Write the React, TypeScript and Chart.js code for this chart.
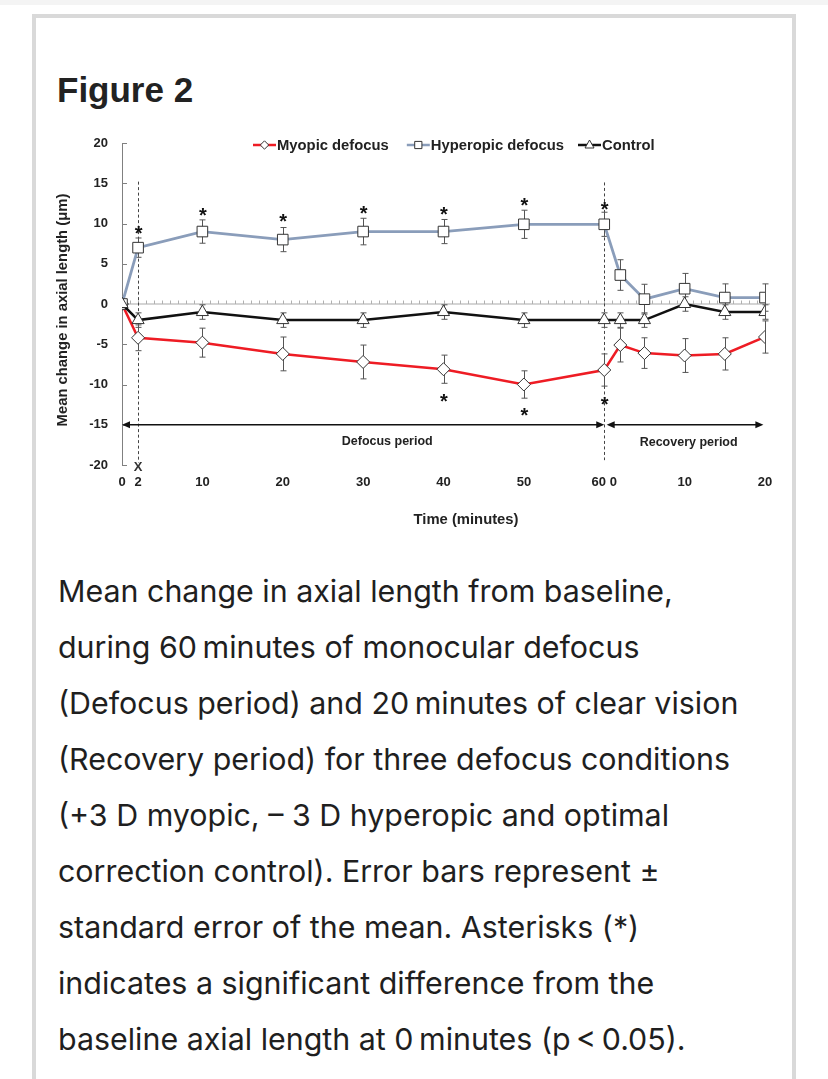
import React, { useEffect, useRef } from "react";
import { Chart, registerables } from "chart.js";

Chart.register(...registerables);

// ---- data ----
const TIME = [0, 2, 10, 20, 30, 40, 50, 60, 62, 65, 70, 75, 80];
const MYOPIC = [0, -4.2, -4.8, -6.2, -7.2, -8.1, -10, -8.2, -5.1, -6.1, -6.4, -6.2, -4.1];
const MYOPIC_SE = [0, 1.6, 1.8, 2.1, 2.1, 1.75, 1.7, 2.0, 2.1, 1.9, 2.1, 2.0, 2.0];
const HYPEROPIC = [0, 7, 9, 8, 9, 9, 9.9, 9.9, 3.6, 0.6, 1.9, 0.8, 0.8];
const HYPEROPIC_SE = [0, 1.2, 1.45, 1.5, 1.65, 1.5, 1.75, 1.5, 1.9, 1.85, 1.9, 1.7, 1.7];
const CONTROL = [0, -2, -1, -2, -2, -1, -2, -2, -2, -2, 0, -1, -1];
const CONTROL_SE = [0, 0.9, 0.9, 0.9, 0.9, 0.9, 0.9, 0.9, 0.9, 0.9, 0.9, 0.9, 0.9];

const X_TICKS = [0, 2, 10, 20, 30, 40, 50, 60, 70, 80];
const X_TICK_LABELS = ["0", "2", "10", "20", "30", "40", "50", "60 0", "10", "20"];
const Y_TICKS = [-20, -15, -10, -5, 0, 5, 10, 15, 20];

const X_TITLE = "Time (minutes)";
const Y_TITLE = "Mean change in axial length (\u03bcm)";

const HYPER_STARS = [[2, 9.4], [10, 11.6], [20, 10.9], [30, 11.9], [40, 11.8], [50, 12.8], [60, 12.3]];
const MYOPIC_STARS = [[40, -11.5], [50, -13.2], [60, -11.9]];

const PERIOD_LABELS = ["Defocus period", "Recovery period"];
const PERIOD_FROM = [0, 60.3];
const PERIOD_TO = [60, 79.8];
const PERIOD_LABEL_X = [33, 70.5];
const PERIOD_LABEL_Y = [-17.1, -17.2];
const ARROW_Y = -15;

const DASHED_X = [2, 60];
const DASHED_TOP = [15.2, 15.1];
const DASHED_BOTTOM = [-19.7, -19.4];

const CAPTION = [
  "Mean change in axial length from baseline,",
  "during 60\u2009minutes of monocular defocus",
  "(Defocus period) and 20\u2009minutes of clear vision",
  "(Recovery period) for three defocus conditions",
  "(+3 D myopic, \u2013 3 D hyperopic and optimal",
  "correction control). Error bars represent \u00b1",
  "standard error of the mean. Asterisks (*)",
  "indicates a significant difference from the",
  "baseline axial length at 0\u2009minutes (p\u2009<\u20090.05).",
];

const FONT = '"Liberation Sans", Arial, Helvetica, sans-serif';
const TEXT_FONT = 'Inter, "Liberation Sans", Arial, sans-serif';
const RED = "#ee1c24";
const BLUE = "#8a9dba";
const BLACK = "#111111";

function drawMarker(ctx: CanvasRenderingContext2D, style: string, cx: number, cy: number, r: number) {
  ctx.beginPath();
  if (style === "rectRot") {
    ctx.moveTo(cx - r, cy);
    ctx.lineTo(cx, cy - r);
    ctx.lineTo(cx + r, cy);
    ctx.lineTo(cx, cy + r);
    ctx.closePath();
  } else if (style === "rect") {
    ctx.rect(cx - r, cy - r, 2 * r, 2 * r);
  } else {
    ctx.moveTo(cx, cy - r);
    ctx.lineTo(cx + r * 0.9, cy + r * 0.6);
    ctx.lineTo(cx - r * 0.9, cy + r * 0.6);
    ctx.closePath();
  }
  ctx.fillStyle = "#fff";
  ctx.fill();
  ctx.strokeStyle = "#333";
  ctx.lineWidth = 1;
  ctx.stroke();
}

const decorPlugin = {
  id: "decor",
  beforeDatasetsDraw(chart: any) {
    const { ctx, chartArea: ca, scales } = chart;
    const x = scales.x;
    const y = scales.y;
    ctx.save();

    // axis titles
    ctx.fillStyle = "#222";
    ctx.font = `bold 14.8px ${FONT}`;
    ctx.textAlign = "center";
    ctx.textBaseline = "middle";
    ctx.fillText(X_TITLE, x.getPixelForValue(42.8), ca.bottom + 55);
    ctx.save();
    ctx.translate(22.5, y.getPixelForValue(-0.75));
    ctx.rotate(-Math.PI / 2);
    ctx.fillText(Y_TITLE, 0, 0);
    ctx.restore();

    // zero line with minute ticks
    const y0 = y.getPixelForValue(0);
    ctx.strokeStyle = "#c6c6c6";
    ctx.lineWidth = 1.5;
    ctx.beginPath();
    ctx.moveTo(x.getPixelForValue(0), y0);
    ctx.lineTo(x.getPixelForValue(80) + 5, y0);
    ctx.stroke();
    ctx.lineWidth = 1;
    ctx.strokeStyle = "#b0b0b0";
    ctx.beginPath();
    for (let m = 1; m <= 80; m++) {
      const px = Math.round(x.getPixelForValue(m)) + 0.5;
      ctx.moveTo(px, y0);
      ctx.lineTo(px, y0 - 3.5);
    }
    ctx.stroke();

    // inward y ticks
    ctx.strokeStyle = "#808080";
    ctx.lineWidth = 1;
    ctx.beginPath();
    Y_TICKS.forEach((v) => {
      const py = Math.round(y.getPixelForValue(v)) + 0.5;
      ctx.moveTo(ca.left, py);
      ctx.lineTo(ca.left + 5, py);
    });
    ctx.stroke();

    // dashed lines
    ctx.strokeStyle = "#444";
    ctx.lineWidth = 1;
    ctx.setLineDash([3, 2.5]);
    DASHED_X.forEach((dx, i) => {
      const px = Math.round(x.getPixelForValue(dx)) + 0.5;
      ctx.beginPath();
      ctx.moveTo(px, y.getPixelForValue(DASHED_TOP[i]));
      ctx.lineTo(px, y.getPixelForValue(DASHED_BOTTOM[i]));
      ctx.stroke();
    });
    ctx.setLineDash([]);

    // arrows
    const ay = y.getPixelForValue(ARROW_Y);
    ctx.strokeStyle = "#111";
    ctx.fillStyle = "#111";
    ctx.lineWidth = 1.5;
    PERIOD_FROM.forEach((f, i) => {
      const x1 = x.getPixelForValue(f);
      const x2 = x.getPixelForValue(PERIOD_TO[i]);
      ctx.beginPath();
      ctx.moveTo(x1 + 4, ay);
      ctx.lineTo(x2 - 4, ay);
      ctx.stroke();
      ctx.beginPath();
      ctx.moveTo(x1, ay);
      ctx.lineTo(x1 + 8, ay - 3.5);
      ctx.lineTo(x1 + 8, ay + 3.5);
      ctx.closePath();
      ctx.fill();
      ctx.beginPath();
      ctx.moveTo(x2, ay);
      ctx.lineTo(x2 - 8, ay - 3.5);
      ctx.lineTo(x2 - 8, ay + 3.5);
      ctx.closePath();
      ctx.fill();
      ctx.font = `bold 12.5px ${FONT}`;
      ctx.textAlign = "center";
      ctx.textBaseline = "middle";
      ctx.fillStyle = "#222";
      ctx.fillText(PERIOD_LABELS[i], x.getPixelForValue(PERIOD_LABEL_X[i]), y.getPixelForValue(PERIOD_LABEL_Y[i]));
      ctx.fillStyle = "#111";
    });

    // break marker X under 2 min
    ctx.font = `bold 13px ${FONT}`;
    ctx.fillStyle = "#333";
    ctx.textAlign = "center";
    ctx.textBaseline = "middle";
    ctx.fillText("X", x.getPixelForValue(2), ca.bottom + 2);

    // error bars
    const series = [
      [MYOPIC, MYOPIC_SE],
      [HYPEROPIC, HYPEROPIC_SE],
      [CONTROL, CONTROL_SE],
    ];
    ctx.strokeStyle = "#555";
    ctx.lineWidth = 1;
    series.forEach(([vals, se]) => {
      vals.forEach((v, i) => {
        if (!se[i]) return;
        const px = Math.round(x.getPixelForValue(TIME[i])) + 0.5;
        const t = y.getPixelForValue(v + se[i]);
        const b = y.getPixelForValue(v - se[i]);
        ctx.beginPath();
        ctx.moveTo(px, t);
        ctx.lineTo(px, b);
        ctx.moveTo(px - 3, t);
        ctx.lineTo(px + 3, t);
        ctx.moveTo(px - 3, b);
        ctx.lineTo(px + 3, b);
        ctx.stroke();
      });
    });
    ctx.restore();
  },
  afterDatasetsDraw(chart: any) {
    const { ctx, scales } = chart;
    const x = scales.x;
    const y = scales.y;
    ctx.save();
    // asterisks
    ctx.font = `bold 20px ${FONT}`;
    ctx.fillStyle = "#111";
    ctx.textAlign = "center";
    ctx.textBaseline = "alphabetic";
    [...HYPER_STARS, ...MYOPIC_STARS].forEach(([sx, sy]) => {
      ctx.fillText("*", x.getPixelForValue(sx) + 0.5, y.getPixelForValue(sy) + 11.5);
    });

    // legend
    const ly = 25;
    let lx = 213;
    ctx.font = `bold 14.8px ${FONT}`;
    ctx.textBaseline = "middle";
    ctx.textAlign = "left";
    chart.data.datasets.forEach((ds: any, i: number) => {
      ctx.strokeStyle = ds.borderColor;
      ctx.lineWidth = 2.5;
      ctx.beginPath();
      ctx.moveTo(lx, ly);
      ctx.lineTo(lx + 23, ly);
      ctx.stroke();
      const ms = ds.pointStyle;
      drawMarker(ctx, ms, lx + 11.5, ly, ms === "rect" ? 3.6 : ms === "rectRot" ? 4.2 : 5);
      ctx.fillStyle = "#222";
      ctx.fillText(ds.label, lx + 24, ly + 0.5);
      lx += 24 + ctx.measureText(ds.label).width + (i === 0 ? 18 : 14);
    });
    ctx.restore();
  },
};

export default function App() {
  const ref = useRef<HTMLCanvasElement | null>(null);

  useEffect(() => {
    if (!ref.current) return;
    const mk = (vals: number[]) => vals.map((v, i) => ({ x: TIME[i], y: v }));
    const chart = new Chart(ref.current, {
      type: "line",
      data: {
        datasets: [
          {
            label: "Myopic defocus",
            data: mk(MYOPIC),
            borderColor: RED,
            borderWidth: 2.5,
            pointStyle: "rectRot",
            pointRadius: 6.5,
            pointBackgroundColor: "#fff",
            pointBorderColor: "#333",
            pointBorderWidth: 1,
            order: 2,
          },
          {
            label: "Hyperopic defocus",
            data: mk(HYPEROPIC),
            borderColor: BLUE,
            borderWidth: 2.8,
            pointStyle: "rect",
            pointRadius: 7.5,
            pointBackgroundColor: "#fff",
            pointBorderColor: "#333",
            pointBorderWidth: 1,
            order: 1,
          },
          {
            label: "Control",
            data: mk(CONTROL),
            borderColor: BLACK,
            borderWidth: 2.5,
            pointStyle: "triangle",
            pointRadius: 7,
            pointBackgroundColor: "#fff",
            pointBorderColor: "#333",
            pointBorderWidth: 1,
            order: 0,
          },
        ],
      },
      options: {
        responsive: false,
        animation: false,
        events: [],
        layout: { padding: { top: 23, right: 20, left: 0, bottom: 0 } },
        plugins: { legend: { display: false }, tooltip: { enabled: false } },
        scales: {
          x: {
            type: "linear",
            min: 0,
            max: 80,
            afterBuildTicks: (s: any) => {
              s.ticks = X_TICKS.map((v) => ({ value: v }));
            },
            afterFit: (s: any) => {
              s.height = 75;
            },
            ticks: {
              autoSkip: false,
              maxRotation: 0,
              padding: 10,
              color: "#222",
              font: { family: FONT, size: 13, weight: "bold" },
              callback: (v: any) => {
                const i = X_TICKS.indexOf(Number(v));
                return i >= 0 ? X_TICK_LABELS[i] : "";
              },
            },
            grid: { display: false, drawTicks: false },
            border: { display: false },
            title: { display: false },
          },
          y: {
            type: "linear",
            min: -20,
            max: 20,
            afterBuildTicks: (s: any) => {
              s.ticks = Y_TICKS.map((v) => ({ value: v }));
            },
            afterFit: (s: any) => {
              s.width = 82;
            },
            ticks: {
              padding: 14,
              color: "#222",
              font: { family: FONT, size: 13, weight: "bold" },
            },
            grid: { display: false, drawTicks: false },
            border: { display: true, color: "#808080", width: 1 },
            title: { display: false },
          },
        },
      },
      plugins: [decorPlugin],
    } as any);
    return () => chart.destroy();
  }, []);

  return (
    <div
      style={{
        position: "absolute",
        left: 0,
        top: 0,
        width: 828,
        height: 1079,
        overflow: "hidden",
        background: "#fff",
        fontFamily: FONT,
      }}
    >
      <div style={{ position: "absolute", left: 0, top: 0, width: 828, height: 5, background: "#f4f4f4" }} />
      <div
        style={{
          position: "absolute",
          left: 32,
          top: 14,
          width: 764,
          height: 1120,
          border: "4px solid #d9d9d9",
          borderBottom: "none",
          boxSizing: "border-box",
        }}
      />
      <div
        style={{
          position: "absolute",
          left: 57,
          top: 70,
          fontSize: 35,
          lineHeight: "40px",
          fontWeight: "bold",
          color: "#222",
          whiteSpace: "nowrap",
        }}
      >
        Figure 2
      </div>
      <canvas
        ref={ref}
        width={745}
        height={420}
        style={{ position: "absolute", left: 40, top: 120, width: 745, height: 420 }}
      />
      <div
        style={{
          position: "absolute",
          left: 58,
          top: 563,
          color: "#1f1f1f",
          fontFamily: TEXT_FONT,
          fontSize: 30.4,
          lineHeight: "56px",
        }}
      >
        {CAPTION.map((line, i) => (
          <div key={i} style={{ whiteSpace: "nowrap" }}>
            {line}
          </div>
        ))}
      </div>
    </div>
  );
}
